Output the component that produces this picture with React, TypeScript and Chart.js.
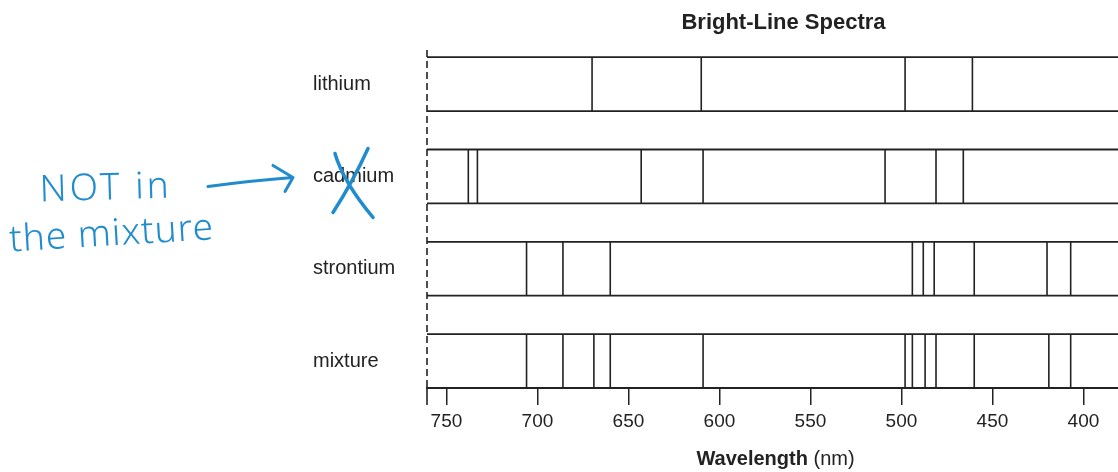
import React, { useEffect, useRef } from "react";
import { Chart, registerables } from "chart.js";

Chart.register(...registerables);

// ---------- data ----------
const ELEMENTS = ["lithium", "cadmium", "strontium", "mixture"];
const LITHIUM_LINES = [670, 610, 498, 461];
const CADMIUM_LINES = [738, 733, 643, 609, 509, 481, 466];
const STRONTIUM_LINES = [706, 686, 660, 494, 488, 482, 460, 420, 407];
const MIXTURE_LINES = [706, 686, 669, 660, 609, 498, 494, 487, 481, 460, 419, 407];
const X_TICKS = [750, 700, 650, 600, 550, 500, 450, 400];
const WAVE_MIN = 381;
const WAVE_MAX = 760.7;
const TITLE = "Bright-Line Spectra";
const X_TITLE_BOLD = "Wavelength";
const X_TITLE_REGULAR = " (nm)";
const NOTE_LINE_1 = "NOT in";
const NOTE_LINE_2 = "the mixture";

// ---------- style ----------
const FONT = '"Liberation Sans", Arial, Helvetica, sans-serif';
const INK = "#222222";
const PEN = "rgb(32, 140, 206)";
const HALF = 0.292; // half height of each spectrum box (in row units)

const SERIES = [LITHIUM_LINES, CADMIUM_LINES, STRONTIUM_LINES, MIXTURE_LINES];

function verticalSegments(lines: number[], row: number) {
  const pts: { x: number; y: number | null }[] = [];
  lines.forEach((w) => {
    pts.push({ x: w, y: row - HALF });
    pts.push({ x: w, y: row + HALF });
    pts.push({ x: w, y: null });
  });
  return pts;
}

function boxEdges(row: number) {
  return [
    { x: WAVE_MAX, y: row - HALF },
    { x: WAVE_MIN, y: row - HALF },
    { x: WAVE_MIN, y: null },
    { x: WAVE_MAX, y: row + HALF },
    { x: WAVE_MIN, y: row + HALF },
  ];
}

const decorPlugin = {
  id: "decor",
  afterDraw(chart: any) {
    const ctx: CanvasRenderingContext2D = chart.ctx;
    const { left, right, top, bottom } = chart.chartArea;
    const ys = chart.scales.y;
    ctx.save();
    // dashed left axis
    ctx.strokeStyle = INK;
    ctx.lineWidth = 1.6;
    ctx.setLineDash([7, 4]);
    ctx.beginPath();
    ctx.moveTo(left, top);
    ctx.lineTo(left, bottom);
    ctx.stroke();
    ctx.setLineDash([]);
    // short solid continuation of the left axis below the plot
    ctx.beginPath();
    ctx.moveTo(left, bottom);
    ctx.lineTo(left, bottom + 17);
    ctx.stroke();

    // title
    ctx.fillStyle = INK;
    ctx.textBaseline = "middle";
    ctx.textAlign = "center";
    ctx.font = `bold 22px ${FONT}`;
    ctx.fillText(TITLE, (left + right) / 2 + 11, 23);

    // x-axis title (bold + regular)
    ctx.textAlign = "left";
    ctx.font = `bold 20px ${FONT}`;
    const wb = ctx.measureText(X_TITLE_BOLD).width;
    ctx.font = `20px ${FONT}`;
    const wr = ctx.measureText(X_TITLE_REGULAR).width;
    const sx = (left + right) / 2 + 3 - (wb + wr) / 2;
    ctx.font = `bold 20px ${FONT}`;
    ctx.fillText(X_TITLE_BOLD, sx, 459);
    ctx.font = `20px ${FONT}`;
    ctx.fillText(X_TITLE_REGULAR, sx + wb, 459);

    // handwritten note anchored at the cadmium label
    const lx = ys.left;
    const ly = ys.getPixelForValue(1);
    ctx.fillStyle = PEN;
    ctx.strokeStyle = PEN;
    ctx.lineCap = "round";
    ctx.lineJoin = "round";
    ctx.textBaseline = "alphabetic";
    ctx.font = `300 37px "Noto Sans", sans-serif`;
    (ctx as any).letterSpacing = "3px";
    ctx.save();
    ctx.translate(lx - 273, ly + 25);
    ctx.rotate(-0.03);
    ctx.fillText(NOTE_LINE_1, 0, 0);
    ctx.restore();
    (ctx as any).letterSpacing = "1px";
    ctx.save();
    ctx.translate(lx - 303, ly + 75);
    ctx.rotate(-0.06);
    ctx.fillText(NOTE_LINE_2, 0, 0);
    ctx.restore();
    (ctx as any).letterSpacing = "0px";

    // arrow
    ctx.lineWidth = 3;
    ctx.beginPath();
    ctx.moveTo(lx - 105, ly + 10);
    ctx.quadraticCurveTo(lx - 60, ly + 4, lx - 20, ly + 1);
    ctx.moveTo(lx - 40, ly - 11);
    ctx.lineTo(lx - 20, ly + 1);
    ctx.lineTo(lx - 28, ly + 15);
    ctx.stroke();

    // cross over "cadmium"
    ctx.lineWidth = 3.5;
    ctx.beginPath();
    ctx.moveTo(lx + 22, ly - 23);
    ctx.quadraticCurveTo(lx + 30, ly + 5, lx + 60, ly + 41);
    ctx.moveTo(lx + 55, ly - 28);
    ctx.quadraticCurveTo(lx + 40, ly + 5, lx + 20, ly + 36);
    ctx.stroke();
    ctx.restore();
  },
};

export default function App() {
  const ref = useRef<HTMLCanvasElement | null>(null);

  useEffect(() => {
    if (!ref.current) return;
    const datasets: any[] = [];
    SERIES.forEach((lines, row) => {
      datasets.push({
        label: ELEMENTS[row] + " box",
        data: boxEdges(row),
        showLine: true,
        spanGaps: false,
        borderColor: INK,
        borderWidth: 1.8,
        pointRadius: 0,
        clip: false,
      });
      datasets.push({
        label: ELEMENTS[row] + " lines",
        data: verticalSegments(lines, row),
        showLine: true,
        spanGaps: false,
        borderColor: INK,
        borderWidth: 1.6,
        pointRadius: 0,
        clip: false,
      });
    });

    const chart = new Chart(ref.current, {
      type: "scatter",
      data: { datasets },
      options: {
        responsive: false,
        animation: false,
        events: [],
        layout: { padding: { left: 313, top: 50, right: 0, bottom: 0 } },
        plugins: {
          legend: { display: false },
          tooltip: { enabled: false },
          title: { display: false },
        },
        scales: {
          x: {
            type: "linear",
            position: "bottom",
            reverse: true,
            min: WAVE_MIN,
            max: WAVE_MAX,
            afterBuildTicks: (scale: any) => {
              scale.ticks = X_TICKS.map((v) => ({ value: v }));
            },
            afterFit: (scale: any) => {
              scale.height = 84;
            },
            grid: {
              display: true,
              drawOnChartArea: false,
              drawTicks: true,
              tickLength: 17,
              color: INK,
              lineWidth: 1.5,
            },
            border: { display: true, color: INK, width: 1.8 },
            ticks: {
              color: INK,
              font: { family: FONT, size: 19 },
              padding: 5,
              maxRotation: 0,
              autoSkip: false,
              callback: (v: any) => String(v),
            },
          },
          y: {
            type: "linear",
            position: "left",
            reverse: true,
            min: -0.37,
            max: 3 + HALF,
            afterBuildTicks: (scale: any) => {
              scale.ticks = ELEMENTS.map((_, i) => ({ value: i }));
            },
            afterFit: (scale: any) => {
              scale.width = 114;
            },
            grid: { display: false, drawTicks: false },
            border: { display: false },
            ticks: {
              color: INK,
              crossAlign: "far",
              font: { family: FONT, size: 20 },
              autoSkip: false,
              callback: (v: any) => ELEMENTS[Number(v)] ?? "",
            },
          },
        },
      },
      plugins: [decorPlugin],
    } as any);
    return () => chart.destroy();
  }, []);

  return (
    <div style={{ position: "absolute", left: 0, top: 0, width: 1118, height: 472, background: "#fff" }}>
      <canvas ref={ref} width={1118} height={472} style={{ display: "block" }} />
    </div>
  );
}
